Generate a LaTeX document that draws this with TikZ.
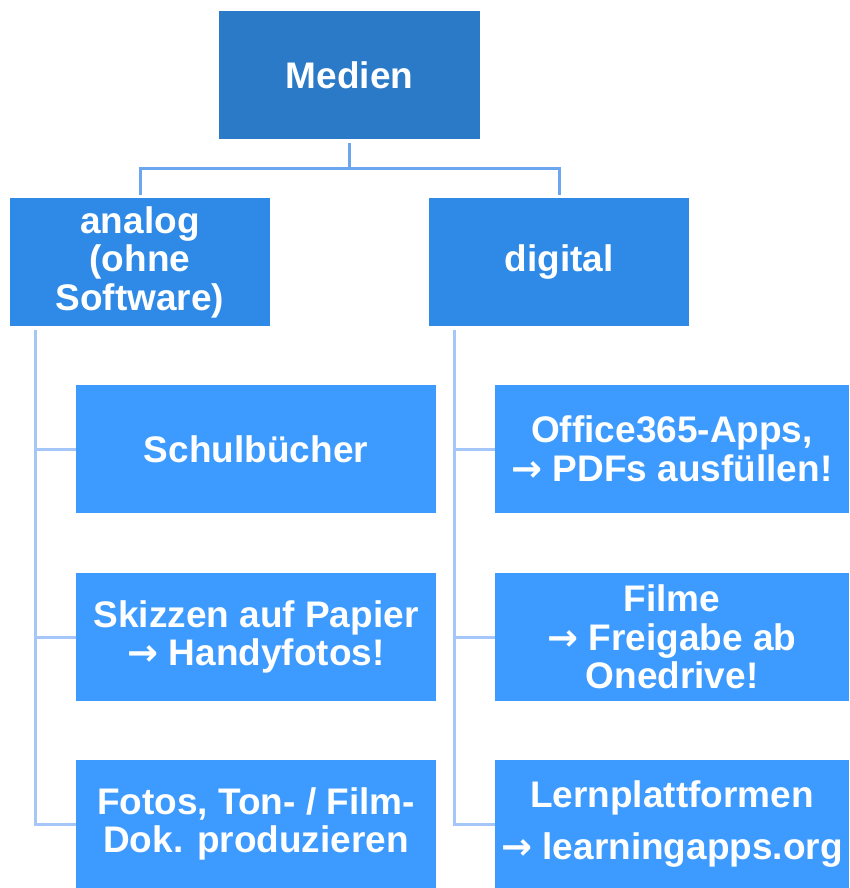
\documentclass[tikz,border=0pt]{standalone}
\usepackage{fontspec}
\setmainfont{Liberation Sans}
\newfontfamily\arrowfont{DejaVu Sans}
\newcommand\arr{{\arrowfont\bfseries →}}
\usetikzlibrary{calc}
\definecolor{topblue}{HTML}{2A7AC8}
\definecolor{midblue}{HTML}{2E8AE6}
\definecolor{leafblue}{HTML}{3D9BFF}
\definecolor{linkblue}{HTML}{6CA6EE}
\definecolor{trunkblue}{HTML}{A4C6F8}
\tikzset{
	box/.style={rectangle, inner sep=0pt, text=white, align=center,
		font=\bfseries\fontsize{37}{38.5}\selectfont, minimum height=128pt},
	topbox/.style={box, fill=topblue, minimum width=261pt},
	midbox/.style={box, fill=midblue, minimum width=260pt},
	leafbox/.style={box, fill=leafblue},
	link/.style={line width=3pt, color=linkblue},
	trunk/.style={line width=3pt, color=trunkblue},
}
\begin{document}
\begin{tikzpicture}[x=1pt, y=-1pt]
			%%%%% START %%%%%
			\useasboundingbox (0, 0) rectangle (849, 888);
			
			\node[topbox] (medien) at (349.5, 75) {Medien};
			
			\node[midbox] (analog) at (140, 262) {analog\\(ohne\\Software)};
			\node[midbox] (digital) at (559, 262) {digital};
			
			\node[leafbox, minimum width=360pt] (schule) at (256, 449) {Schulbücher};
			\node[leafbox, minimum width=360pt] (skizze) at (256, 637) {Skizzen auf Papier\\\arr{} Handyfotos!};
			\node[leafbox, minimum width=360pt] (fotos) at (256, 824) {Fotos, Ton- / Film-\\Dok. produzieren};
			
			\node[leafbox, minimum width=354pt] (office) at (672, 449) {Office365-Apps,\\\arr{} PDFs ausfüllen!};
			\node[leafbox, minimum width=354pt] (filme) at (672, 637) {Filme\\\arr{} Freigabe ab\\Onedrive!};
			\node[leafbox, minimum width=354pt] (lern) at (672, 824) {Lernplattformen\\[14pt]\arr{} learningapps.org};
			
			\coordinate (fork) at ($(medien.south)+(0, 29)$);
			\draw[link] ($(medien.south)+(0, 4)$) -- (fork);
			\draw[link] (fork) -| ($(analog.north)+(0, -3)$);
			\draw[link] (fork) -| ($(digital.north)+(0, -3)$);
			
			\foreach \leaf in {schule, skizze, fotos}
				\draw[trunk] ($(analog.south west)+(26, 4)$) |- (\leaf.west);
			\foreach \leaf in {office, filme, lern}
				\draw[trunk] ($(digital.south west)+(26, 4)$) |- (\leaf.west);
			
			%%%%% END %%%%%
\end{tikzpicture}
\end{document}
